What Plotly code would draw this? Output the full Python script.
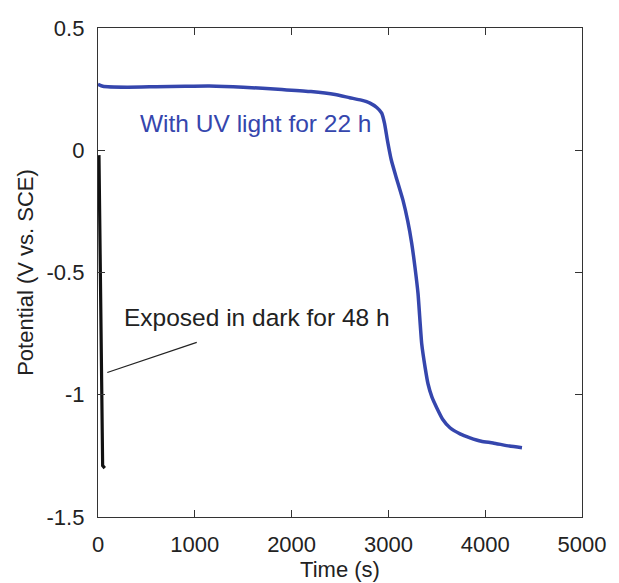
import plotly.graph_objects as go

# UV light curve (Time s, Potential V vs SCE)
uv_time = [0, 50, 300, 600, 900, 1150, 1500, 1900, 2200, 2450, 2600, 2720, 2810, 2880, 2931, 2960,
           2990, 3030, 3080, 3151, 3200, 3241, 3275, 3306, 3344, 3380, 3409, 3450, 3499, 3560, 3636,
           3740, 3843, 3960, 4081, 4250, 4380]
uv_pot = [0.27, 0.262, 0.258, 0.26, 0.262, 0.263, 0.258, 0.248, 0.24, 0.228, 0.215, 0.205, 0.193, 0.175,
          0.152, 0.11, 0.04, -0.04, -0.11, -0.205, -0.29, -0.381, -0.48, -0.586, -0.791, -0.89, -0.955,
          -1.01, -1.053, -1.10, -1.135, -1.16, -1.176, -1.19, -1.197, -1.21, -1.217]

# Dark exposure curve
dark_time = [10, 18, 28, 38, 48, 70]
dark_pot = [-0.02, -0.30, -0.62, -0.95, -1.29, -1.30]

# Annotation pointer line
ptr_time = [96, 1020]
ptr_pot = [-0.909, -0.786]

FONT = "Liberation Sans, Arial"

fig = go.Figure()
fig.add_trace(go.Scatter(x=dark_time, y=dark_pot, mode="lines",
                         line=dict(color="#111111", width=3.2), showlegend=False))
fig.add_trace(go.Scatter(x=uv_time, y=uv_pot, mode="lines",
                         line=dict(color="#3546ad", width=3.5, shape="spline", smoothing=0.5),
                         showlegend=False))
fig.add_trace(go.Scatter(x=ptr_time, y=ptr_pot, mode="lines",
                         line=dict(color="#222222", width=1.3), showlegend=False))

fig.add_annotation(x=413, y=0.11, text="With UV light for 22 h", showarrow=False,
                   xanchor="left", yanchor="middle",
                   font=dict(family=FONT, size=24.5, color="#3546ad"))
fig.add_annotation(x=248, y=-0.684, text="Exposed in dark for 48 h", showarrow=False,
                   xanchor="left", yanchor="middle",
                   font=dict(family=FONT, size=24.5, color="#222222"))

axis_common = dict(showgrid=False, zeroline=False, showline=True, linecolor="#333333",
                   linewidth=1.3, mirror="ticks", ticks="inside", ticklen=7, tickwidth=1.3,
                   tickcolor="#333333", automargin=False,
                   tickfont=dict(family=FONT, size=22, color="#222222"))

fig.update_xaxes(range=[0, 5000], tickvals=[0, 1000, 2000, 3000, 4000, 5000],
                 ticklabelstandoff=7,
                 title=dict(text="Time (s)", standoff=2,
                            font=dict(family=FONT, size=22, color="#222222")),
                 **axis_common)
fig.update_yaxes(range=[-1.5, 0.5], tickvals=[-1.5, -1, -0.5, 0, 0.5],
                 ticktext=["-1.5", "-1", "-0.5", "0", "0.5"],
                 ticklabelstandoff=8,
                 title=dict(text="Potential (V vs. SCE)", standoff=6,
                            font=dict(family=FONT, size=22, color="#222222")),
                 **axis_common)

fig.update_layout(width=619, height=583, margin=dict(l=98, r=37, t=28, b=66),
                  plot_bgcolor="white", paper_bgcolor="white")

fig.write_html("out.html")
